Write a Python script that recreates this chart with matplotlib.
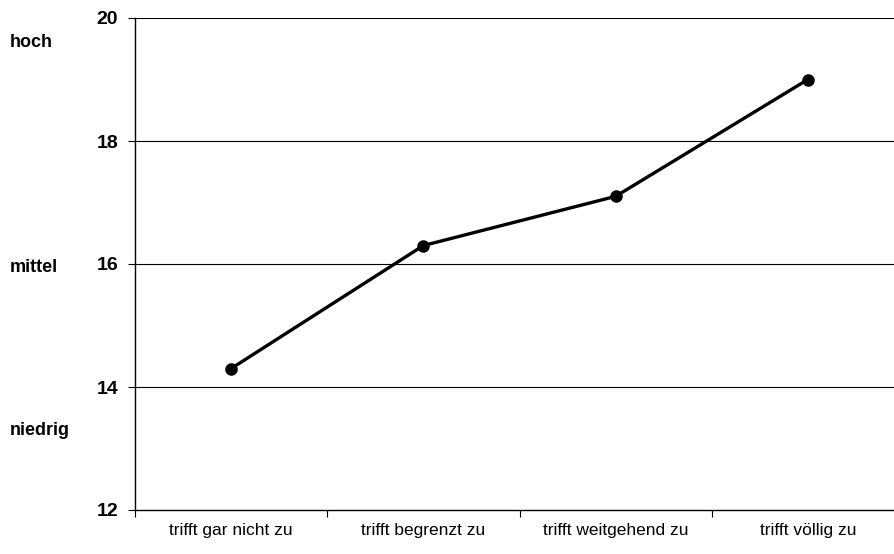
import matplotlib
matplotlib.use("Agg")
import matplotlib.pyplot as plt

categories = ["trifft gar nicht zu", "trifft begrenzt zu", "trifft weitgehend zu", "trifft völlig zu"]
values = [14.3, 16.3, 17.1, 19.0]
yticks = [12, 14, 16, 18, 20]
level_labels = ["hoch", "mittel", "niedrig"]
level_positions = [19.6, 15.95, 13.3]

plt.rcParams['font.family'] = ['Liberation Sans', 'DejaVu Sans']

fig = plt.figure(figsize=(8.94, 5.54), dpi=100)
ax = fig.add_axes([135/894, 44/554, 769/894, 492/554])

x = list(range(len(categories)))
ax.plot(x, values, color='black', linewidth=2.4, marker='o', markersize=8, zorder=3, clip_on=False)

ax.set_xlim(-0.5, len(categories) - 0.5)
ax.set_ylim(12, 20)
ax.set_yticks(yticks)
ax.set_yticklabels([str(t) for t in yticks], fontweight='bold', fontsize=14)
for t in yticks[1:]:
    ax.axhline(t, color='black', linewidth=0.8, zorder=1)

ax.set_xticks([i + 0.5 for i in range(-1, len(categories))])
ax.set_xticklabels([])
ax.set_xticks(x, minor=True)
ax.set_xticklabels(categories, minor=True, fontsize=12.5)
ax.tick_params(axis='x', which='minor', length=0, pad=9)
ax.tick_params(axis='x', which='major', length=5, width=0.8)
ax.tick_params(axis='y', length=5, width=0.8, pad=7)

for s in ['top', 'right']:
    ax.spines[s].set_visible(False)
for s in ['left', 'bottom']:
    ax.spines[s].set_linewidth(1.0)

for lab, pos in zip(level_labels, level_positions):
    ax.text(10/894, ax.transData.transform((0, pos))[1] / 554, lab, transform=fig.transFigure,
            fontweight='bold', fontsize=13, ha='left', va='center')

fig.savefig("out.png", dpi=100)
